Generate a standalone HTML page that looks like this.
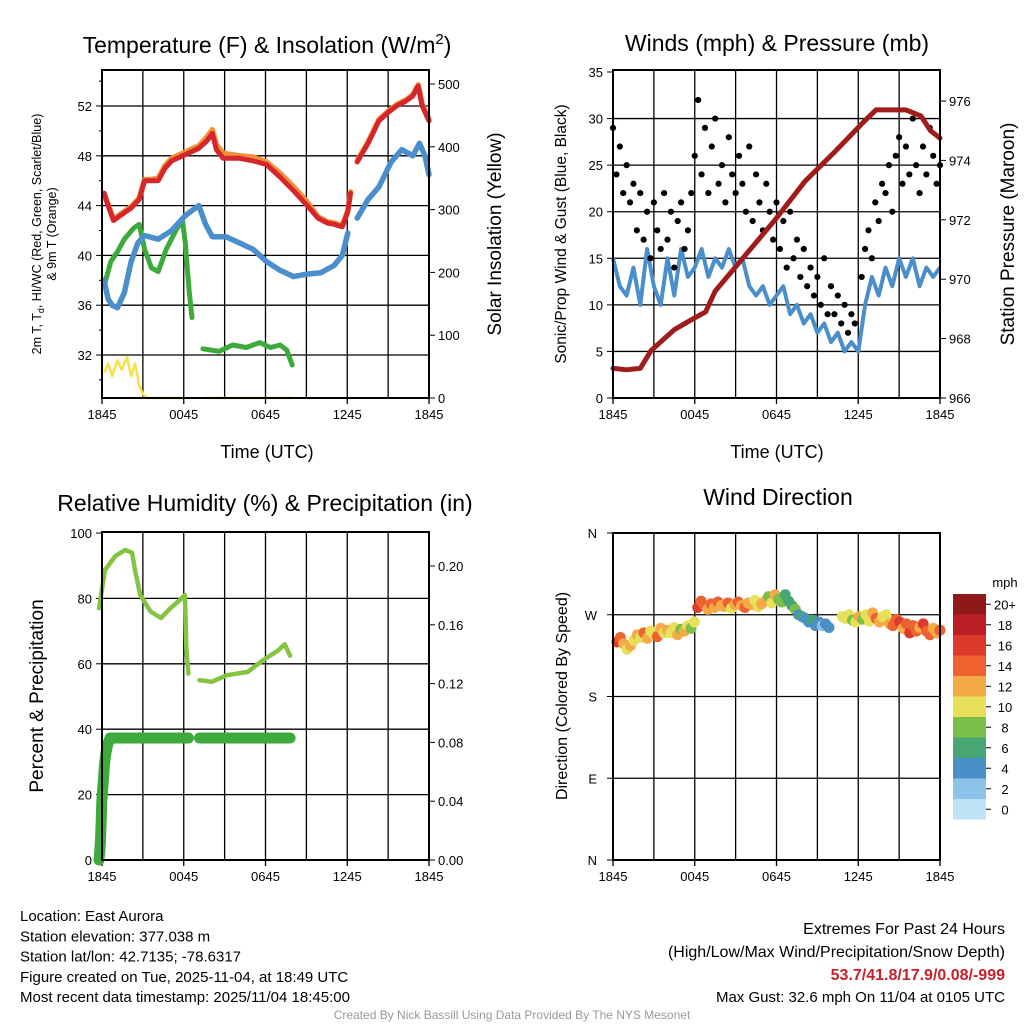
<!DOCTYPE html>
<html><head><meta charset="utf-8"><style>
html,body{margin:0;padding:0;background:#fff;}
svg{display:block;font-family:"Liberation Sans",Arial,sans-serif;}
</style></head><body>
<svg id="c" width="1024" height="1024" viewBox="0 0 1024 1024"></svg>
<script>
// ---------- DATA ----------
const redHours=[0,0.3,0.7,1.2,2,2.6,3,3.5,4,4.5,5,6,7,7.6,8,8.3,8.8,10,11,12,13,14,15,15.8,16.5,17,17.6,18,18.2,null,18.7,19.5,20.3,21,21.6,22.3,22.8,23.2,23.5,24];
const redVals=[45,44,42.8,43.2,43.8,44.5,46,46,46,47,47.6,48.1,48.6,49.2,49.8,48.5,47.8,47.8,47.6,47.3,46.3,45.2,44,43,42.6,42.5,42.3,43.5,45,null,47.5,49,50.8,51.5,52,52.4,52.8,53.6,52,50.8];
const orangeVals=[45,44.1,42.9,43.3,43.9,44.6,46.1,46.1,46.2,47.2,47.8,48.3,48.8,49.5,50.1,48.9,48.2,48,47.9,47.5,46.6,45.5,44.3,43.1,42.7,42.6,42.4,43.6,45.1,null,47.6,49.1,50.9,51.6,52.1,52.5,52.9,53.7,52.1,50.9];
const blueHours=[0,0.3,0.6,1,1.5,2,2.5,3,4,5,6,7,7.5,8,9,10,11,12,13,14,15,16,17,17.6,18,null,18.7,19.5,20.3,21.2,22,22.8,23.3,23.7,24];
const blueVals=[38,36.5,36,35.8,37,39.5,41,41.6,41.3,42,43.2,44,42.5,41.5,41.5,41,40.5,39.5,38.8,38.3,38.5,38.6,39.2,40,41.8,null,43,44.5,45.5,47.5,48.5,48,49,48,46.5];
const greenHours=[0,0.5,1,1.5,2.2,2.6,3,3.5,4,4.6,5.3,5.8,6,6.3,6.5,null,7.3,8.5,9.5,10.5,11.5,12.3,13,13.5,13.9];
const greenVals=[37.5,39.5,40.3,41.3,42.2,42.5,40.5,39,38.7,40.5,42,42.8,41,37,35,null,32.5,32.3,32.8,32.6,33,32.6,32.8,32.4,31.2];
const solarHours=[0,0.3,0.6,1,1.3,1.7,2,2.3,2.6,2.9,3.2,5.7,null,7.5,13.9];
const solarVals=[40,55,35,60,45,65,35,55,20,5,0,0,null,0,0];
const tempTicks=[32,36,40,44,48,52];
const solarTicks=[0,100,200,300,400,500];
const timeLabels=["1845","0045","0645","1245","1845"];

const windVals=[15,12,11,14,10,16,12,10,15,11,16,13,14,16,13,15,14,16,14,15,12,11,12,10,11,12,9,10,8,9,7,8,6,7,5,6,5,10,13,11,14,12,15,13,15,12,14,13,14];
const gustVals=[29,24,27,22,25,21,23,18,22,17,20,15,21,18,16,22,17,20,14,19,21,16,18,22,26,32,24,29,22,27,30,23,25,21,28,24,22,26,23,20,27,19,24,21,18,23,20,17,21,16,19,14,20,15,17,13,16,12,14,11,13,10,15,9,12,9,11,8,10,7,9,8,null,13,16,18,15,21,19,23,22,25,20,26,28,23,27,24,30,25,22,27,24,29,26,23,25];
const presHours=[0,1,2,2.8,4.5,6,6.8,7.5,9.7,11.9,14.1,16.3,18.4,19.3,21.5,22.6,23.3,24];
const presVals=[967,966.95,967,967.6,968.3,968.7,968.9,969.6,970.8,972,973.3,974.3,975.3,975.7,975.7,975.5,975,974.75];
const windTicks=[0,5,10,15,20,25,30,35];
const presTicks=[966,968,970,972,974,976];

const rhHours=[0,0.44,1.2,1.9,2.4,2.65,3,3.75,4.5,5.2,6,6.25,6.35,6.5,null,7.3,8.2,9.3,10.8,11.9,13,13.5,13.9];
const rhVals=[77,88.7,93,94.8,94,88,81,76,74,77,80,81,65,57,null,55,54.5,56.5,57.5,61,64,66,62.5];
const precipHours=[0,0.05,0.1,0.15,0.2,0.3,0.4,0.5,0.65,0.8,6.5,null,7.3,13.9];
const precipVals=[0,0.005,0.012,0.025,0.04,0.052,0.065,0.073,0.079,0.083,0.083,null,0.083,0.083];
const rhTicks=[0,20,40,60,80,100];
const precipTicks=["0.00","0.04","0.08","0.12","0.16","0.20"];

const dirVals=[240,245,238,232,236,242,248,245,250,244,252,248,246,255,250,253,250,256,248,254,252,258,255,262,278,285,280,276,282,278,284,280,279,283,277,281,284,280,278,283,281,286,279,282,285,290,283,292,287,284,292,285,280,276,270,268,266,262,264,258,262,258,260,256,null,null,null,268,266,270,264,262,268,265,270,263,272,266,262,268,270,260,258,265,262,255,260,250,258,252,256,260,252,248,255,250,253];
const dirSpeeds=[16,14,12,10,12,10,13,11,15,12,10,11,14,12,10,13,11,10,12,9,12,10,8,11,16,14,15,13,14,12,15,13,12,14,11,13,15,12,14,13,12,11,10,12,13,9,10,12,9,8,6,7,7,8,5,6,5,4,6,5,4,3,5,4,0,0,0,10,10,11,9,10,12,9,11,10,13,14,12,11,10,12,15,14,16,13,15,17,14,15,13,16,15,14,12,13,14];
const dirTicks=["N","E","S","W","N"];
const speedLabels=["0","2","4","6","8","10","12","14","16","18","20+"];
const speedColors=["#bde3f6","#8cc3e8","#4a8fc8","#47a673","#7cbf48","#e6e05a","#f5aa48","#ee6230","#dc3a2c","#bb1e24","#8f181a"];

// ---------- HELPERS ----------
const S=document.getElementById('c');
const NS='http://www.w3.org/2000/svg';
function mk(tag,attrs,parent){const e=document.createElementNS(NS,tag);for(const k in attrs)e.setAttribute(k,attrs[k]);(parent||S).appendChild(e);return e;}
function txt(x,y,s,size,opts){opts=opts||{};const e=mk('text',{x:x,y:y,'font-size':size,'text-anchor':opts.anchor||'middle',fill:opts.fill||'#000'});if(opts.rot)e.setAttribute('transform','rotate('+opts.rot+' '+x+' '+y+')');if(opts.weight)e.setAttribute('font-weight',opts.weight);e.textContent=s;return e;}
function lin(d0,d1,r0,r1){return v=>r0+(v-d0)*(r1-r0)/(d1-d0);}
function pathFrom(xs,ys,fx,fy){let d='',pen=false;for(let i=0;i<xs.length;i++){if(xs[i]===null||ys[i]===null){pen=false;continue;}d+=(pen?'L':'M')+fx(xs[i]).toFixed(1)+' '+fy(ys[i]).toFixed(1);pen=true;}return d;}
function frame(p,name){
  const g=mk('g',{});
  
  
  for(let i=1;i<8;i++){const x=p.x0+(p.x1-p.x0)*i/8;mk('line',{x1:x,y1:p.y0,x2:x,y2:p.y1,stroke:'#000','stroke-width':1.3},g);}
  return g;
}
function border(p){mk('rect',{x:p.x0,y:p.y0,width:p.x1-p.x0,height:p.y1-p.y0,fill:'none',stroke:'#000','stroke-width':2});}
function timeAxis(p){
  const fx=lin(0,24,p.x0,p.x1);
  timeLabels.forEach((l,i)=>{const x=fx(i*6);mk('line',{x1:x,y1:p.y1,x2:x,y2:p.y1+6,stroke:'#000','stroke-width':1.3});const t=txt(x,p.y1+21,l,13);});
}

// ---------- PANEL 1: Temperature ----------
(function(){
  const p={x0:102,x1:429,y0:70,y1:398};
  const fx=lin(0,24,p.x0+2,p.x1);
  const fy=lin(32,52,355,106);
  const fs=lin(0,500,398,84);
  frame(p,'temperature');
  tempTicks.forEach(v=>{const y=fy(v);mk('line',{x1:p.x0,y1:y,x2:p.x1,y2:y,stroke:'#000','stroke-width':1.3});mk('line',{x1:p.x0-6,y1:y,x2:p.x0,y2:y,stroke:'#000'});const t=txt(p.x0-10,y+5,String(v),13,{anchor:'end'});});
  for(let v=30;v<=54;v+=2){if(v%4)mk('line',{x1:p.x0-3,y1:fy(v),x2:p.x0,y2:fy(v),stroke:'#000'});}
  solarTicks.forEach(v=>{const y=fs(v);mk('line',{x1:p.x1,y1:y,x2:p.x1+6,y2:y,stroke:'#000'});const t=txt(p.x1+9,y+5,String(v),13,{anchor:'start'});});
  timeAxis(p);
  const ys=mk('path',{d:pathFrom(solarHours,solarVals,fx,fs),fill:'none',stroke:'#f7e04a','stroke-width':2.5,'stroke-linejoin':'round'});
  
  const go=mk('path',{d:pathFrom(greenHours,greenVals,fx,fy),fill:'none',stroke:'#3faa3c','stroke-width':5,'stroke-linejoin':'round','stroke-linecap':'round'});
  
  const bl=mk('path',{d:pathFrom(blueHours,blueVals,fx,fy),fill:'none',stroke:'#4a8fcb','stroke-width':5.5,'stroke-linejoin':'round','stroke-linecap':'round'});
  
  const or=mk('path',{d:pathFrom(redHours,orangeVals,fx,fy),fill:'none',stroke:'#f0913a','stroke-width':5.5,'stroke-linejoin':'round','stroke-linecap':'round'});
  
  const rd=mk('path',{d:pathFrom(redHours,redVals,fx,fy),fill:'none',stroke:'#d7262b','stroke-width':5,'stroke-linejoin':'round','stroke-linecap':'round'});
  
  border(p);
  const t=mk('text',{x:267,y:53,'font-size':23,'text-anchor':'middle'});
  t.innerHTML='Temperature (F) &amp; Insolation (W/m<tspan dy="-9" font-size="15">2</tspan><tspan dy="9">)</tspan>';
  
  let a=txt(267,458,'Time (UTC)',18);
  const yl=mk('text',{x:41,y:234,'font-size':12.5,'text-anchor':'middle',transform:'rotate(-90 41 234)'});
  yl.innerHTML='2m T, T<tspan dy="3" font-size="9">d</tspan><tspan dy="-3">, HI/WC (Red, Green, Scarlet/Blue)</tspan>';
  
  a=txt(56,234,'& 9m T (Orange)',12.5,{rot:-90});
  a=txt(501,234,'Solar Insolation (Yellow)',19,{rot:-90});
})();

// ---------- PANEL 2: Winds ----------
(function(){
  const p={x0:613,x1:940,y0:70,y1:398};
  const fx=lin(0,24,p.x0,p.x1);
  const fy=lin(0,35,398,72);
  const fp=lin(966,976,398,101);
  frame(p,'winds');
  windTicks.forEach(v=>{const y=fy(v);if(v>0&&v<35)mk('line',{x1:p.x0,y1:y,x2:p.x1,y2:y,stroke:'#000','stroke-width':1.3});mk('line',{x1:p.x0-6,y1:y,x2:p.x0,y2:y,stroke:'#000'});const t=txt(p.x0-10,y+5,String(v),13,{anchor:'end'});});
  presTicks.forEach(v=>{const y=fp(v);mk('line',{x1:p.x1,y1:y,x2:p.x1+6,y2:y,stroke:'#000'});const t=txt(p.x1+9,y+5,String(v),13,{anchor:'start'});});
  timeAxis(p);
  const wh=windVals.map((v,i)=>i*0.5);
  const w=mk('path',{d:pathFrom(wh,windVals,fx,fy),fill:'none',stroke:'#4a8fcb','stroke-width':4,'stroke-linejoin':'round'});
  
  gustVals.forEach((v,i)=>{if(v===null)return;const c=mk('circle',{cx:fx(i*0.25),cy:fy(v),r:3.1,fill:'#000'});
    
    });
  const pr=mk('path',{d:pathFrom(presHours,presVals,fx,fp),fill:'none',stroke:'#a01c1c','stroke-width':5,'stroke-linejoin':'round','stroke-linecap':'round'});
  
  border(p);
  let a=txt(777,51,'Winds (mph) & Pressure (mb)',23);
  a=txt(777,458,'Time (UTC)',18);
  a=txt(566,234,'Sonic/Prop Wind & Gust (Blue, Black)',15.5,{rot:-90});
  a=txt(1014,234,'Station Pressure (Maroon)',19,{rot:-90});
})();

// ---------- PANEL 3: RH ----------
(function(){
  const p={x0:102,x1:429,y0:532,y1:860};
  const fx=lin(0,24,p.x0-3,p.x1);
  const fy=lin(0,100,860,533);
  const fq=lin(0,0.2,860,566);
  frame(p,'humidity');
  rhTicks.forEach(v=>{const y=fy(v);if(v>0&&v<100)mk('line',{x1:p.x0,y1:y,x2:p.x1,y2:y,stroke:'#000','stroke-width':1.3});mk('line',{x1:p.x0-6,y1:y,x2:p.x0,y2:y,stroke:'#000'});const t=txt(p.x0-10,y+5,String(v),13,{anchor:'end'});});
  precipTicks.forEach(v=>{const y=fq(parseFloat(v));mk('line',{x1:p.x1,y1:y,x2:p.x1+6,y2:y,stroke:'#000'});const t=txt(p.x1+9,y+5,v,13,{anchor:'start'});});
  timeAxis(p);
  const pr=mk('path',{d:pathFrom(precipHours,precipVals,fx,fq),fill:'none',stroke:'#3faa3c','stroke-width':11,'stroke-linejoin':'round','stroke-linecap':'round'});
  
  const rh=mk('path',{d:pathFrom(rhHours,rhVals,fx,fy),fill:'none',stroke:'#85c441','stroke-width':4.5,'stroke-linejoin':'round','stroke-linecap':'round'});
  
  border(p);
  let a=txt(265,511,'Relative Humidity (%) & Precipitation (in)',23);
  a=txt(43,696,'Percent & Precipitation',19,{rot:-90});
})();

// ---------- PANEL 4: Wind direction ----------
(function(){
  const p={x0:613,x1:940,y0:533,y1:860};
  const fx=lin(0,24,p.x0+4,p.x1);
  const fy=lin(0,360,860,533);
  frame(p,'wind-direction');
  dirTicks.forEach((l,i)=>{const y=fy(i*90);if(i>0&&i<4)mk('line',{x1:p.x0,y1:y,x2:p.x1,y2:y,stroke:'#000','stroke-width':1.3});mk('line',{x1:p.x0-6,y1:y,x2:p.x0,y2:y,stroke:'#000'});const t=txt(p.x0-16,y+5,l,13,{anchor:'end'});});
  timeAxis(p);
  dirVals.forEach((v,i)=>{if(v===null)return;const s=dirSpeeds[i];const bin=Math.min(10,Math.floor(s/2));
    const c=mk('circle',{cx:fx(i*0.25),cy:fy(v),r:5.5,fill:speedColors[bin]});
    
    });
  border(p);
  let a=txt(778,505,'Wind Direction',23);
  a=txt(567,696,'Direction (Colored By Speed)',16,{rot:-90});
  const cb=mk('g',{});
  
  const top=594,bh=20.5;
  speedColors.forEach((c,i)=>{const y=top+(10-i)*bh;const r=mk('rect',{x:953,y:y,width:33,height:bh,fill:c},cb);
    
    
    mk('line',{x1:986,y1:y+bh/2,x2:991,y2:y+bh/2,stroke:'#000'},cb);
    const t=txt(1005,y+bh/2+5,speedLabels[i],13);});
  a=txt(1005,587,'mph',13);
})();

// ---------- FOOTER ----------
(function(){
  const left=['Location: East Aurora','Station elevation: 377.038 m','Station lat/lon: 42.7135; -78.6317','Figure created on Tue, 2025-11-04, at 18:49 UTC','Most recent data timestamp: 2025/11/04 18:45:00'];
  left.forEach((s,i)=>{const t=txt(20,921+i*20.3,s,15,{anchor:'start'});});
  let a=txt(1005,934,'Extremes For Past 24 Hours',16,{anchor:'end'});
  a=txt(1005,957,'(High/Low/Max Wind/Precipitation/Snow Depth)',16,{anchor:'end'});
  a=txt(1005,980,'53.7/41.8/17.9/0.08/-999',16,{anchor:'end',fill:'#c8202a',weight:'bold'});
  a=txt(1005,1002,'Max Gust: 32.6 mph On 11/04 at 0105 UTC',15,{anchor:'end'});
  a=txt(512,1019,'Created By Nick Bassill Using Data Provided By The NYS Mesonet',12,{fill:'#999'});
})();
</script>
</body></html>
